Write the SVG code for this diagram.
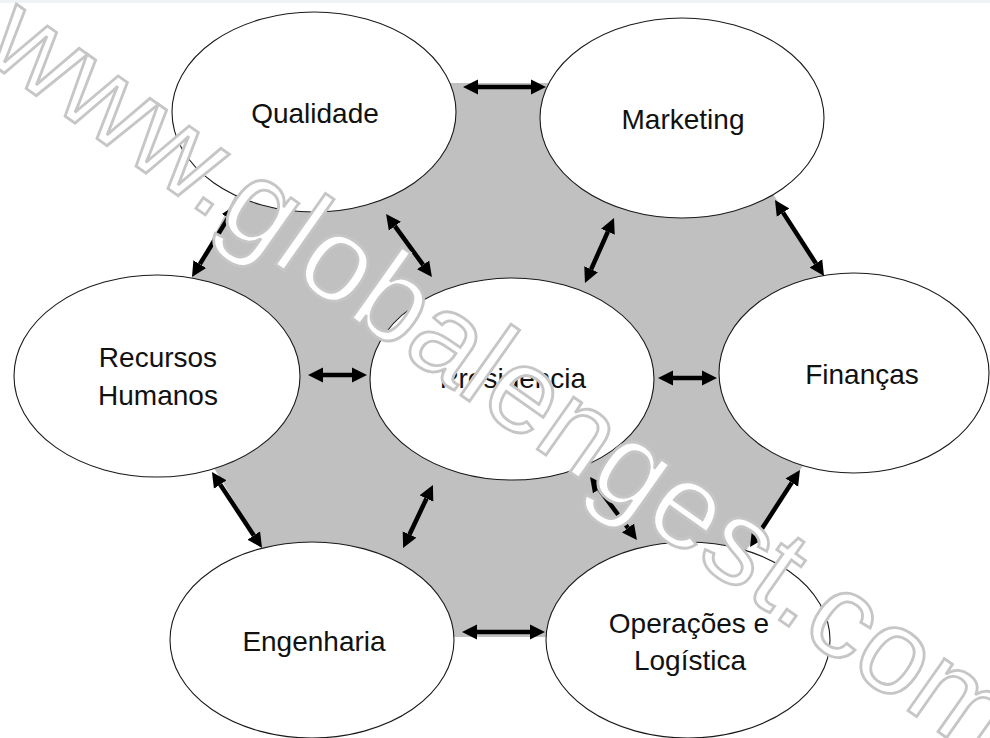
<svg xmlns="http://www.w3.org/2000/svg" width="990" height="738" viewBox="0 0 990 738">
<defs>
<style>
.node ellipse{fill:#ffffff;stroke:#1a1a1a;stroke-width:1.1}
.lbl{font-family:"Liberation Sans",Arial,sans-serif;font-size:28px;fill:#111;text-anchor:middle}
.conn line{stroke:#000;stroke-width:4.5;marker-start:url(#ah);marker-end:url(#ah)}
.wm{font-family:"Liberation Sans",Arial,sans-serif;font-size:120px;fill:#ffffff;stroke:#c6c6c6;stroke-width:2.8}
</style>
<marker id="ah" viewBox="0 -8 15 16" refX="0" refY="0" markerWidth="15" markerHeight="16" markerUnits="userSpaceOnUse" orient="auto-start-reverse">
<path d="M0,-7.5 L15,0 L0,7.5 z" fill="#000"/>
</marker>
</defs>
<rect width="990" height="738" fill="#ffffff"/>
<rect width="990" height="3" fill="#eef4f6"/>
<polygon id="background" points="295,83 703,83 876,357 688,637 317,637 148,360" fill="#c0c0c0"/>
<g id="node-qualidade" class="node"><ellipse cx="314" cy="112" rx="142" ry="100"/><text class="lbl" x="315" y="123">Qualidade</text></g>
<g id="node-marketing" class="node"><ellipse cx="682" cy="118" rx="142" ry="100"/><text class="lbl" x="683" y="129">Marketing</text></g>
<g id="node-rh" class="node"><ellipse cx="157" cy="376" rx="143" ry="101"/><text class="lbl" x="158" y="367">Recursos</text><text class="lbl" x="158" y="405">Humanos</text></g>
<g id="node-presidencia" class="node"><ellipse cx="512" cy="379" rx="142" ry="101"/><text class="lbl" x="513" y="388">Presidencia</text></g>
<g id="node-financas" class="node"><ellipse cx="854" cy="373" rx="135" ry="100"/><text class="lbl" x="862" y="384">Finanças</text></g>
<g id="node-engenharia" class="node"><ellipse cx="312" cy="640" rx="142" ry="98"/><text class="lbl" x="314" y="651">Engenharia</text></g>
<g id="node-operacoes" class="node"><ellipse cx="688" cy="640" rx="142" ry="98"/><text class="lbl" x="689" y="633">Operações e</text><text class="lbl" x="690" y="670">Logística</text></g>
<g id="connectors" class="conn">
<line x1="478" y1="87" x2="531" y2="87"/>
<line x1="228.2" y1="217.8" x2="199.8" y2="264.2"/>
<line x1="394.9" y1="226.1" x2="423.1" y2="264.9"/>
<line x1="607.9" y1="231.7" x2="591.1" y2="269.3"/>
<line x1="783.1" y1="212.6" x2="815.9" y2="263.4"/>
<line x1="323" y1="375" x2="352" y2="375"/>
<line x1="673" y1="378" x2="702" y2="378"/>
<line x1="220.2" y1="484.5" x2="253.8" y2="535.5"/>
<line x1="426.5" y1="498.5" x2="409.5" y2="534.5"/>
<line x1="599" y1="489" x2="628" y2="528"/>
<line x1="791.8" y1="482.6" x2="758.2" y2="534.4"/>
<line x1="477" y1="632" x2="530" y2="632"/>
</g>
<text class="wm" transform="translate(-20,56) rotate(35.2)">www.globalengest.com</text>
</svg>
